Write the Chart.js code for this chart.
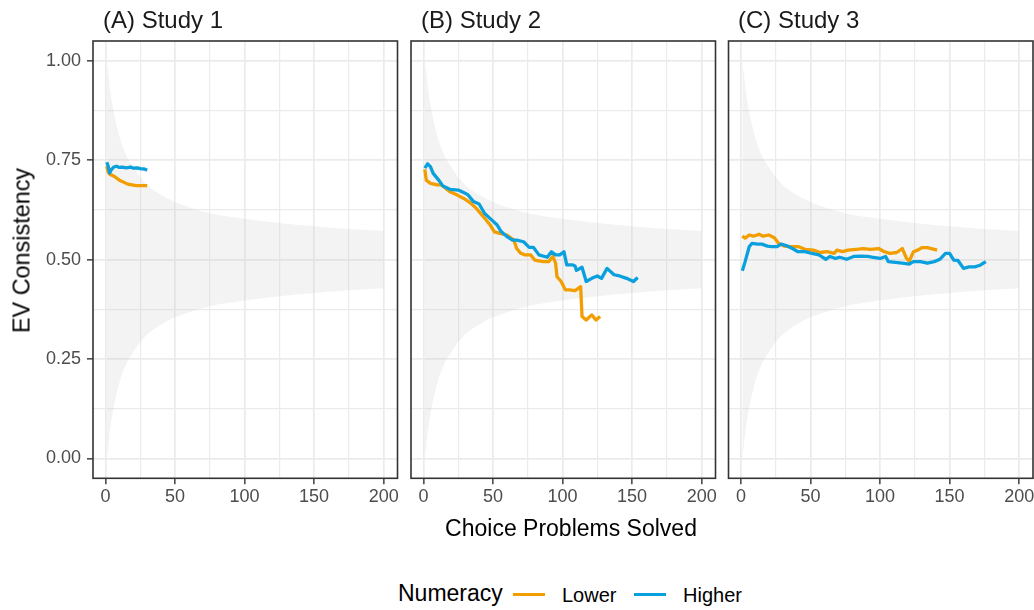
<!DOCTYPE html>
<html lang="en">
<head>
<meta charset="UTF-8">
<title>EV Consistency by Numeracy</title>
<script src="https://cdn.jsdelivr.net/npm/chart.js"></script>
<style>
    body { margin: 0; width: 1034px; height: 610px; position: relative; background: #fff; overflow: hidden;
           font-family: 'Liberation Sans', Arial, Helvetica, sans-serif; }
    canvas { position: absolute; top: 0; }
    .txt { position: absolute; white-space: nowrap; }
    .strip { font-size: 24px; line-height: 24px; color: #1a1a1a; top: 8px; }
    .key { position: absolute; height: 3px; width: 32px; top: 593px; }
</style>
</head>
<body>
<canvas id="chartA" width="400" height="520" style="left:0"></canvas>
<canvas id="chartB" width="314" height="520" style="left:404px"></canvas>
<canvas id="chartC" width="313" height="520" style="left:721px"></canvas>

<div class="txt strip" style="left:103px">(A) Study 1</div>
<div class="txt strip" style="left:421px">(B) Study 2</div>
<div class="txt strip" style="left:738px">(C) Study 3</div>

<div class="txt" style="left:421px;width:300px;top:517px;font-size:23px;line-height:23px;text-align:center;color:#000">Choice Problems Solved</div>
<div class="txt" style="left:-128px;width:300px;top:239px;font-size:23.4px;line-height:23px;text-align:center;color:#000;transform:rotate(-90deg)">EV Consistency</div>

<div class="txt" style="left:398px;top:582px;font-size:23px;line-height:23px;color:#000">Numeracy</div>
<div class="key" style="left:513px;background:#F29D00"></div>
<div class="txt" style="left:562px;top:585px;font-size:20px;line-height:20px;color:#000">Lower</div>
<div class="key" style="left:634px;background:#0AA0DE"></div>
<div class="txt" style="left:683px;top:585px;font-size:20px;line-height:20px;color:#000">Higher</div>

<script>
// tick positions (major labelled, minor only as grid lines)
var xTicks = [0, 25, 50, 75, 100, 125, 150, 175, 200];
var yTicks = [0, 0.125, 0.25, 0.375, 0.5, 0.625, 0.75, 0.875, 1];

// grey chance band
var bandX     = [1, 2, 3, 4, 5, 6, 8, 10, 12, 15, 20, 25, 30, 40, 50, 60, 75, 100, 125, 150, 175, 200];
var bandUpper = [0.998, 0.97, 0.938, 0.91, 0.89, 0.87, 0.838, 0.81, 0.788, 0.762, 0.733, 0.707, 0.688, 0.663, 0.645, 0.632, 0.617, 0.603, 0.592, 0.584, 0.577, 0.572];
var bandLower = [0.002, 0.03, 0.062, 0.09, 0.11, 0.13, 0.162, 0.19, 0.212, 0.238, 0.267, 0.293, 0.312, 0.337, 0.355, 0.368, 0.383, 0.397, 0.408, 0.416, 0.423, 0.428];

// Study 1
var s1LowerX  = [1, 2, 3, 5, 7, 10, 13, 16, 19, 22, 26, 30];
var s1LowerY  = [0.735, 0.72, 0.715, 0.712, 0.708, 0.70, 0.695, 0.69, 0.688, 0.686, 0.686, 0.686];
var s1HigherX = [1, 2, 3, 4, 6, 8, 10, 12, 15, 18, 20, 23, 25, 28, 30];
var s1HigherY = [0.745, 0.735, 0.718, 0.725, 0.733, 0.735, 0.732, 0.733, 0.731, 0.733, 0.730, 0.731, 0.729, 0.728, 0.725];

// Study 2
var s2LowerX  = [1, 2, 5, 10, 13, 19, 24, 29, 34, 38, 44, 48, 51, 55, 60, 65, 67, 70, 73, 77, 80, 86, 90, 93, 95, 96, 99, 102, 105, 109, 113, 114, 117, 121, 124, 127];
var s2LowerY  = [0.727, 0.70, 0.692, 0.688, 0.688, 0.671, 0.663, 0.654, 0.642, 0.629, 0.604, 0.587, 0.570, 0.566, 0.562, 0.549, 0.528, 0.516, 0.512, 0.512, 0.499, 0.495, 0.495, 0.508, 0.491, 0.457, 0.445, 0.424, 0.424, 0.422, 0.432, 0.357, 0.348, 0.361, 0.348, 0.357];
var s2HigherX = [1, 3, 5, 7, 11, 14, 19, 25, 30, 32, 36, 40, 44, 49, 53, 56, 60, 64, 67, 72, 76, 79, 83, 89, 92, 95, 98, 101, 103, 107, 109, 110, 114, 117, 121, 125, 128, 132, 137, 141, 146, 151, 154];
var s2HigherY = [0.730, 0.741, 0.734, 0.717, 0.700, 0.685, 0.677, 0.675, 0.667, 0.663, 0.646, 0.640, 0.616, 0.600, 0.587, 0.570, 0.558, 0.549, 0.549, 0.545, 0.531, 0.531, 0.512, 0.506, 0.520, 0.512, 0.512, 0.520, 0.487, 0.487, 0.484, 0.473, 0.481, 0.445, 0.453, 0.459, 0.453, 0.478, 0.462, 0.459, 0.453, 0.445, 0.455];

// Study 3
var s3LowerX  = [1, 3, 6, 9, 13, 16, 20, 24, 27, 31, 35, 41, 46, 52, 57, 62, 67, 69, 73, 77, 83, 88, 93, 99, 103, 107, 112, 116, 119, 121, 124, 127, 130, 134, 139, 141];
var s3LowerY  = [0.559, 0.554, 0.562, 0.559, 0.564, 0.559, 0.562, 0.555, 0.541, 0.534, 0.533, 0.533, 0.526, 0.524, 0.518, 0.520, 0.516, 0.524, 0.520, 0.524, 0.526, 0.528, 0.526, 0.528, 0.520, 0.516, 0.518, 0.528, 0.503, 0.496, 0.520, 0.524, 0.530, 0.530, 0.526, 0.524];
var s3HigherX = [1, 3, 6, 8, 12, 15, 19, 22, 26, 29, 33, 37, 41, 46, 51, 56, 61, 64, 68, 71, 76, 81, 86, 91, 95, 100, 104, 106, 111, 116, 121, 124, 129, 134, 139, 143, 147, 150, 153, 156, 160, 164, 168, 172, 176];
var s3HigherY = [0.472, 0.495, 0.533, 0.541, 0.539, 0.539, 0.534, 0.533, 0.533, 0.539, 0.535, 0.528, 0.520, 0.520, 0.516, 0.512, 0.501, 0.508, 0.503, 0.506, 0.501, 0.508, 0.509, 0.508, 0.506, 0.503, 0.508, 0.495, 0.493, 0.491, 0.489, 0.495, 0.495, 0.491, 0.495, 0.501, 0.516, 0.516, 0.499, 0.498, 0.478, 0.482, 0.482, 0.486, 0.495];

var lowerColor = '#F29D00';
var higherColor = '#0AA0DE';
var fontFamily = "'Liberation Sans', Arial, Helvetica, sans-serif";

function points(xs, ys) {
    return xs.map(function(x, i) { return { x: x, y: ys[i] }; });
}

function isMajorX(v) { return v % 50 === 0; }
function isMajorY(v) { return Math.abs(v * 4 - Math.round(v * 4)) < 1e-6; }

// ggplot-like panel border on all four sides
var panelBox = {
    id: 'panelBox',
    afterDraw: function(chart) {
        var a = chart.chartArea, ctx = chart.ctx;
        ctx.save();
        ctx.strokeStyle = '#333333';
        ctx.lineWidth = 1.6;
        ctx.strokeRect(a.left, a.top, a.right - a.left, a.bottom - a.top);
        ctx.restore();
    }
};

function makePanel(id, lx, ly, hx, hy, yWidth, rightPad, showY) {
    var lineStyle = { pointRadius: 0, borderWidth: 3.3, tension: 0, fill: false, borderJoinStyle: 'round' };
    new Chart(document.getElementById(id), {
        type: 'line',
        data: {
            datasets: [
                Object.assign({ label: 'Higher', data: points(hx, hy), borderColor: higherColor, order: 1 }, lineStyle),
                Object.assign({ label: 'Lower', data: points(lx, ly), borderColor: lowerColor, order: 2 }, lineStyle),
                { label: 'band', data: points(bandX, bandUpper), fill: '+1', backgroundColor: 'rgba(200,200,200,0.22)',
                  borderColor: 'rgba(0,0,0,0)', pointRadius: 0, cubicInterpolationMode: 'monotone', order: 3 },
                { label: 'band low', data: points(bandX, bandLower), fill: false,
                  borderColor: 'rgba(0,0,0,0)', pointRadius: 0, cubicInterpolationMode: 'monotone', order: 4 }
            ]
        },
        options: {
            responsive: false,
            animation: false,
            layout: { padding: { top: 41, left: 0, right: rightPad, bottom: 0 } },
            plugins: { legend: { display: false }, tooltip: { enabled: false } },
            scales: {
                x: {
                    type: 'linear',
                    min: -8.95,
                    max: 209.95,
                    border: { display: false },
                    afterBuildTicks: function(scale) {
                        scale.ticks = xTicks.map(function(v) { return { value: v }; });
                    },
                    afterFit: function(scale) {
                        scale.height = 41.7;
                        scale.paddingLeft = 0;
                        scale.paddingRight = 0;
                    },
                    grid: {
                        color: '#ebebeb',
                        lineWidth: function(c) { return c.tick && isMajorX(c.tick.value) ? 1.7 : 1.2; },
                        tickColor: function(c) { return c.tick && isMajorX(c.tick.value) ? '#333333' : 'rgba(0,0,0,0)'; },
                        tickWidth: 1.4,
                        tickLength: 6
                    },
                    ticks: {
                        autoSkip: false,
                        maxRotation: 0,
                        padding: 2,
                        color: '#4d4d4d',
                        font: { family: fontFamily, size: 18 },
                        callback: function(v) { return isMajorX(v) ? String(v) : ''; }
                    }
                },
                y: {
                    type: 'linear',
                    min: -0.05,
                    max: 1.05,
                    border: { display: false },
                    afterBuildTicks: function(scale) {
                        scale.ticks = yTicks.map(function(v) { return { value: v }; });
                    },
                    afterFit: function(scale) {
                        scale.width = yWidth;
                        scale.paddingTop = 0;
                        scale.paddingBottom = 0;
                    },
                    grid: {
                        color: '#ebebeb',
                        lineWidth: function(c) { return c.tick && isMajorY(c.tick.value) ? 1.7 : 1.2; },
                        tickColor: function(c) { return showY && c.tick && isMajorY(c.tick.value) ? '#333333' : 'rgba(0,0,0,0)'; },
                        tickWidth: 1.4,
                        tickLength: 6,
                        drawTicks: showY
                    },
                    ticks: {
                        display: showY,
                        padding: 6,
                        color: '#4d4d4d',
                        font: { family: fontFamily, size: 18 },
                        callback: function(v) { return isMajorY(v) ? v.toFixed(2) : ''; }
                    }
                }
            }
        },
        plugins: [panelBox]
    });
}

makePanel('chartA', s1LowerX, s1LowerY, s1HigherX, s1HigherY, 93, 2.5, true);
makePanel('chartB', s2LowerX, s2LowerY, s2HigherX, s2HigherY, 7, 2.5, false);
makePanel('chartC', s3LowerX, s3LowerY, s3HigherX, s3HigherY, 7.5, 1, false);
</script>
</body>
</html>
